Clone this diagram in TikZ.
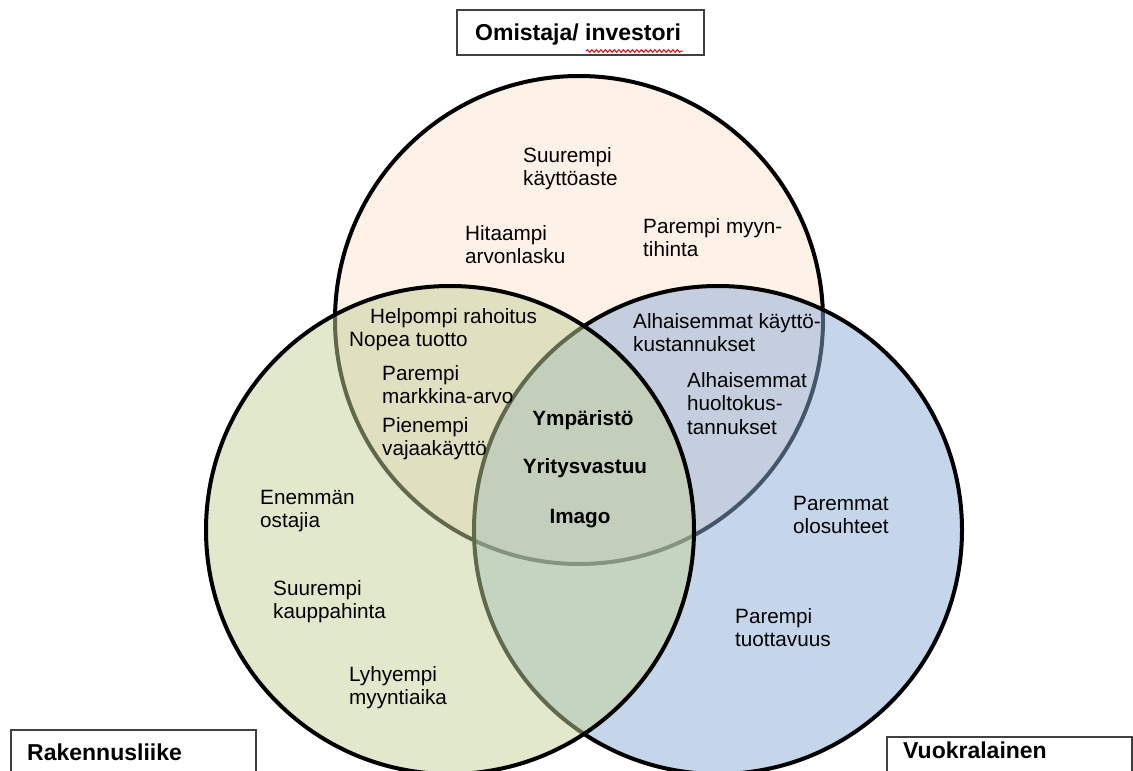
\documentclass[tikz,border=0pt]{standalone}
\usepackage{fontspec}
\setmainfont{Liberation Sans}
\usetikzlibrary{decorations.pathmorphing}

\definecolor{omistajavari}{RGB}{253,241,232}
\definecolor{rakentajavari}{RGB}{197,209,153}
\definecolor{vuokraajavari}{RGB}{141,173,213}

\tikzset{
	ympyra/.style = { line width = 4pt },
	teksti/.style = { anchor = north west, inner sep = 0pt, align = left, font = \fontsize{20.7}{23.5}\selectfont },
	keskus/.style = { anchor = base, inner sep = 0pt, font = \fontsize{20.7}{23.5}\selectfont\bfseries },
	otsikko/.style = { anchor = base west, inner sep = 0pt, font = \fontsize{23}{26}\selectfont\bfseries },
	laatikko/.style = { draw = black!75, line width = 1.3pt }
}

\begin{document}
\begin{tikzpicture}[x=1pt, y=-1pt]
		\useasboundingbox ( 0, 0 ) rectangle ( 1133, 771 );
		\clip ( 0, 0 ) rectangle ( 1133, 771 );

		% ympyrät
		\draw [ympyra, fill = omistajavari] ( 579, 320 ) circle [radius = 244pt];
		\draw [ympyra, fill = vuokraajavari, fill opacity = 0.5] ( 718, 530 ) circle [radius = 244pt];
		\draw [ympyra, fill = rakentajavari, fill opacity = 0.5] ( 450, 530 ) circle [radius = 244pt];

		% otsikot
		\draw [laatikko] ( 457, 10 ) rectangle ( 704, 55 );
		\node [otsikko] (omistaja) at ( 475, 40 ) {Omistaja/ investori};
		\draw [red, line width = 1pt, decorate, decoration = { snake, amplitude = 1.3pt, segment length = 4.5pt }] ( 586, 51 ) -- ( 683, 51 );
		\draw [laatikko] ( 11, 730 ) rectangle ( 256, 790 );
		\node [otsikko] (rakennusliike) at ( 27, 760 ) {Rakennusliike};
		\draw [laatikko] ( 887, 737 ) rectangle ( 1132, 790 );
		\node [otsikko] (vuokralainen) at ( 903, 758 ) {Vuokralainen};

		% omistaja
		\node [teksti] (kayttoaste) at ( 523, 147 ) {Suurempi\\käyttöaste};
		\node [teksti] (arvonlasku) at ( 465, 225 ) {Hitaampi\\arvonlasku};
		\node [teksti] (myyntihinta) at ( 643, 218 ) {Parempi myyn-\\tihinta};

		% omistaja + rakennusliike
		\node [teksti] (rahoitus) at ( 370, 308 ) {Helpompi rahoitus};
		\node [teksti] (tuotto) at ( 349, 332 ) {Nopea tuotto};
		\node [teksti] (markkinaarvo) at ( 382, 365 ) {Parempi\\markkina-arvo};
		\node [teksti] (vajaakaytto) at ( 382, 417 ) {Pienempi\\vajaakäyttö};

		% omistaja + vuokralainen
		\node [teksti] (kayttokust) at ( 633, 313 ) {Alhaisemmat käyttö-\\kustannukset};
		\node [teksti] (huoltokust) at ( 687, 372 ) {Alhaisemmat\\huoltokus-\\tannukset};

		% kaikki
		\node [keskus] (ymparisto) at ( 583, 425 ) {Ympäristö};
		\node [keskus] (yritysvastuu) at ( 585, 473 ) {Yritysvastuu};
		\node [keskus] (imago) at ( 580, 523 ) {Imago};

		% vuokralainen
		\node [teksti] (olosuhteet) at ( 793, 496 ) {Paremmat\\olosuhteet};
		\node [teksti] (tuottavuus) at ( 735, 608 ) {Parempi\\tuottavuus};

		% rakennusliike
		\node [teksti] (ostajia) at ( 260, 490 ) {Enemmän\\ostajia};
		\node [teksti] (kauppahinta) at ( 273, 580 ) {Suurempi\\kauppahinta};
		\node [teksti] (myyntiaika) at ( 349, 666 ) {Lyhyempi\\myyntiaika};
	\end{tikzpicture}
\end{document}
